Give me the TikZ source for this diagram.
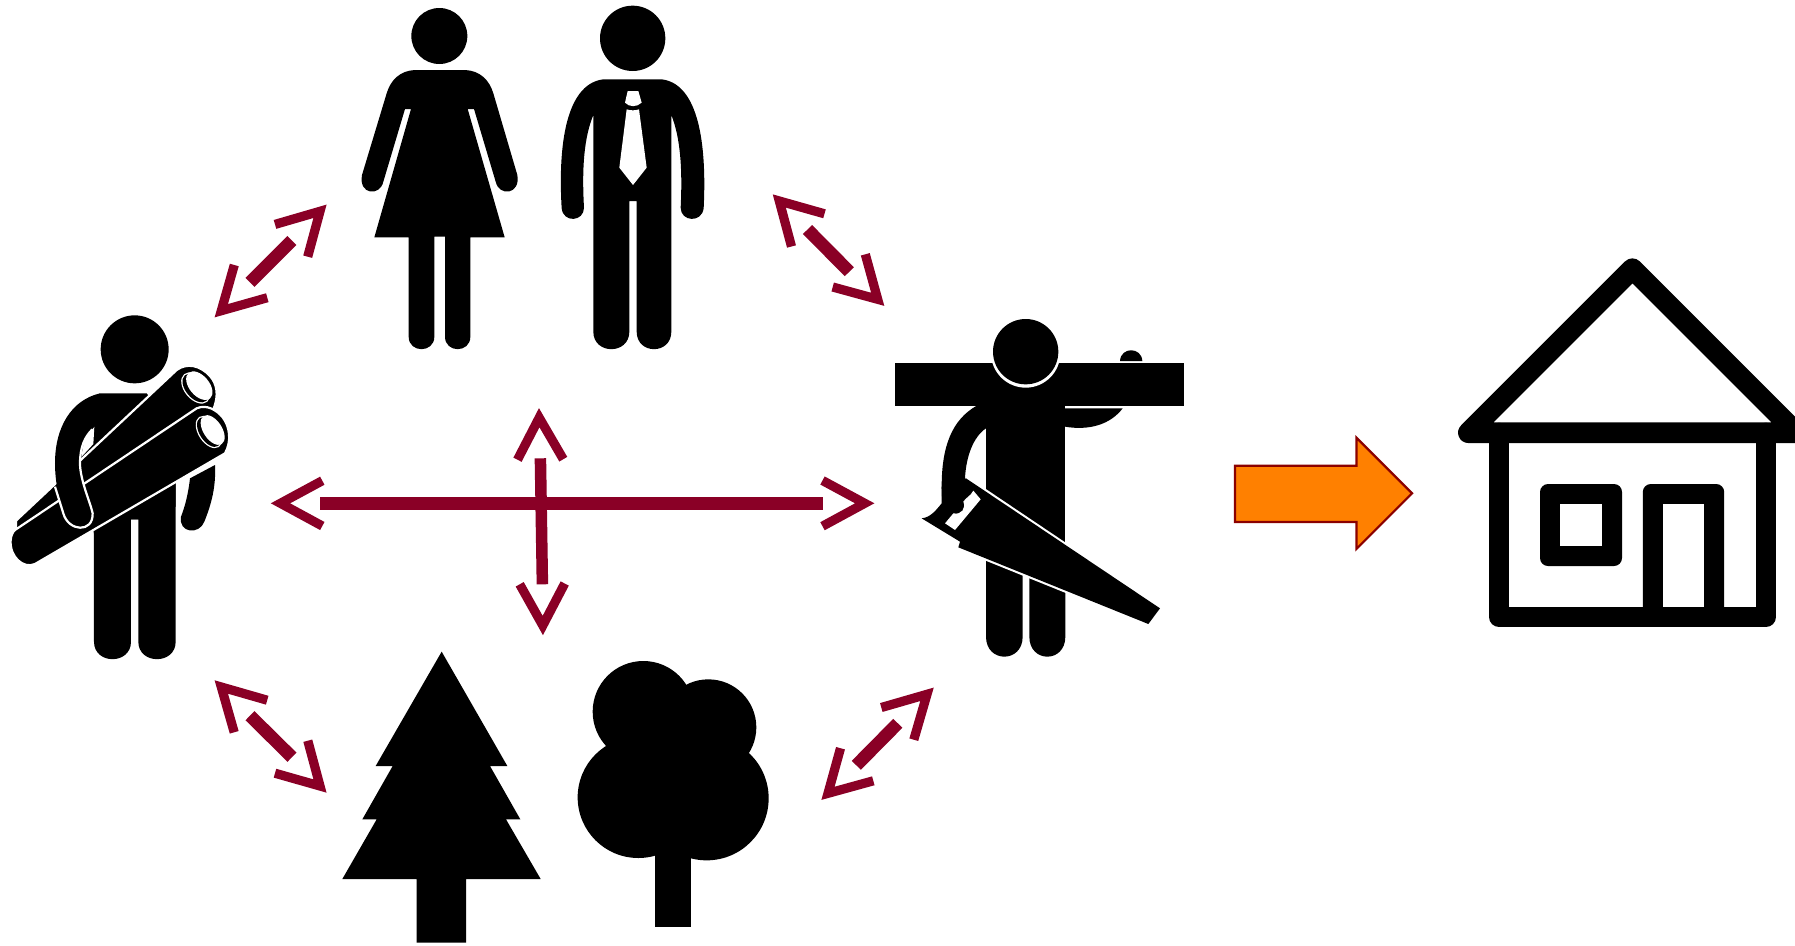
\documentclass[tikz,border=0pt]{standalone}
\definecolor{wine}{HTML}{8A0026}
\definecolor{arroworange}{HTML}{FF8000}
\definecolor{arrowedge}{HTML}{8B0000}
\tikzset{
  chev/.style={draw=wine,line width=9.2pt,miter limit=10,line join=miter,line cap=butt},
  shaft/.style={draw=wine,line width=12.8pt,line cap=butt},
  vshaft/.style={draw=wine,line width=11.5pt,line cap=butt},
  ink/.style={fill=black,draw=none},
  gap/.style={draw=white,line width=2.2pt},
  halo/.style={draw=white,line width=4.4pt},
  paper/.style={fill=white,draw=none},
  iconpart/.style={shift={#1},scale=0.33333},
  houseline/.style={draw=black,line join=round,line cap=round}
}
\begin{document}
\begin{tikzpicture}[x=1pt,y=-1pt]
\useasboundingbox (0,0) rectangle (1795,945);
\clip (0,0) rectangle (1795,945);
\fill[white] (0,0) rectangle (1795,945);

% woman and man
\begin{scope}[iconpart={(350,0)}]
  \fill[ink] (268,108) circle (84);
  \fill[ink] (195,210) .. controls (150,212) and (122,240) .. (110,280) -- (36,525)
    .. controls (25,585) and (90,590) .. (100,545) -- (165,327) -- (183,327) -- (73,712) -- (176,712) -- (176,1010)
    .. controls (176,1060) and (253,1060) .. (253,1010) -- (253,710) -- (285,710) -- (285,1010)
    .. controls (285,1060) and (361,1060) .. (361,1010) -- (361,712) -- (464,712) -- (353,327) -- (372,327) -- (437,545)
    .. controls (447,590) and (512,585) .. (502,525) -- (430,280) .. controls (418,240) and (390,212) .. (345,210) -- cycle;
  \fill[ink] (848,115) circle (98);
  \fill[ink] (760,238) .. controls (660,250) and (622,400) .. (635,625)
    .. controls (640,670) and (702,665) .. (702,623) .. controls (695,500) and (703,410) .. (730,345) -- (730,995)
    .. controls (730,1065) and (838,1065) .. (838,995) -- (838,603) -- (860,603) -- (860,995)
    .. controls (860,1065) and (964,1065) .. (964,995) -- (964,345) .. controls (990,410) and (998,500) .. (992,623)
    .. controls (992,665) and (1055,670) .. (1061,625) .. controls (1072,400) and (1035,250) .. (935,238) -- cycle;
  \fill[paper] (833,273) -- (865,273) -- (875,308) .. controls (860,322) and (838,322) .. (825,308) -- cycle;
  \fill[paper] (830,328) .. controls (842,332) and (855,332) .. (867,328) -- (890,503) -- (849,555) -- (808,503) -- cycle;
\end{scope}

% man carrying logs
\begin{scope}[iconpart={(0,300)}]
  \fill[ink] (404,148) circle (102);
  \fill[ink] (570,535) -- (645,495) .. controls (648,560) and (635,610) .. (613,665)
    .. controls (598,705) and (535,700) .. (543,650) .. controls (555,620) and (565,580) .. (570,535) -- cycle;
  \fill[ink] (282,650) -- (282,1025) .. controls (282,1095) and (393,1095) .. (393,1025) -- (393,658) -- (415,658) -- (415,1025)
    .. controls (415,1095) and (527,1095) .. (527,1025) -- (527,540) -- cycle;
  \fill[ink] (300,280) -- (440,280) -- (527,400) -- (527,620) -- (415,658) -- (393,658) -- (282,700) -- (220,400) -- cycle;
  \fill[paper] (283,380) -- (280,432) -- (245,470) .. controls (248,430) and (260,400) .. (283,380) -- cycle;
  % upper log
  \filldraw[fill=black,gap] (48,690) -- (48,662) -- (530,210) .. controls (560,188) and (600,195) .. (630,228)
    .. controls (650,250) and (658,285) .. (640,328) -- (600,330) -- cycle;
  \fill[paper,shift={(587,264)},rotate=-50] (0,0) ellipse (54 and 34);
  \fill[ink,shift={(587,264)},rotate=-50] (0,0) ellipse (50 and 30);
  \fill[paper,shift={(598,257)},rotate=-50] (0,0) ellipse (50 and 30);
  % lower log
  \filldraw[fill=black,gap] (45,690) -- (590,325) .. controls (620,312) and (650,330) .. (668,352)
    .. controls (690,380) and (695,425) .. (675,460) -- (105,792) .. controls (70,808) and (28,770) .. (32,720)
    .. controls (33,708) and (38,695) .. (45,690) -- cycle;
  \fill[paper,shift={(627,396)},rotate=-57] (0,0) ellipse (54 and 32);
  \fill[ink,shift={(627,396)},rotate=-57] (0,0) ellipse (50 and 28);
  \fill[paper,shift={(638,390)},rotate=-57] (0,0) ellipse (50 and 28);
  % near arm
  \fill[ink] (300,280) .. controls (215,300) and (165,380) .. (165,490) .. controls (165,540) and (175,590) .. (190,640)
    .. controls (205,695) and (280,700) .. (278,640) .. controls (272,610) and (240,540) .. (240,490)
    .. controls (240,440) and (255,410) .. (283,380) -- (300,330) -- cycle;
  \draw[gap] (277,388) .. controls (255,410) and (240,440) .. (240,490) .. controls (240,540) and (272,610) .. (278,640)
    .. controls (280,700) and (205,695) .. (190,640) -- (165,560);
\end{scope}

% carpenter
\begin{scope}[iconpart={(880,300)}]
  \fill[ink] (318,300) rectangle (556,770);
  \fill[ink] (318,770) -- (318,1010) .. controls (318,1090) and (428,1090) .. (428,1010) -- (428,800) -- cycle;
  \fill[ink] (448,800) -- (448,1010) .. controls (448,1090) and (556,1090) .. (556,1010) -- (556,770) -- cycle;
  \fill[ink] (720,183) .. controls (722,140) and (785,140) .. (787,183) -- cycle;
  \fill[ink] (555,325) -- (728,325) .. controls (690,375) and (625,392) .. (555,380) -- cycle;
  \fill[ink] (44,190) rectangle (913,317);
  \fill[paper] (437,159) circle (104);
  \fill[ink] (437,155) circle (98);
  \fill[ink] (290,317) .. controls (215,360) and (185,440) .. (185,560) -- (187,620) -- (258,560) -- (255,535)
    .. controls (258,470) and (280,410) .. (318,385) -- (340,317) -- cycle;
  \draw[halo] (258,535) -- (575,748);
  \draw[halo] (300,768) -- (575,879);
  \fill[ink] (258,535) -- (840,925) -- (805,972) -- (235,742) -- (240,725) -- (125,655)
    .. controls (150,652) and (165,635) .. (185,610) -- (185,560) -- cycle;
  \fill[paper] (280,572) -- (302,598) -- (225,690) -- (195,670) -- (220,640)
    .. controls (245,645) and (258,625) .. (250,605) .. controls (258,592) and (270,590) .. (280,572) -- cycle;
\end{scope}

% trees
\begin{scope}[iconpart={(330,640)}]
  \fill[ink] (335,35) -- (532,378) -- (480,378) -- (571,538) -- (528,538) -- (632,717) -- (408,717) -- (408,908) -- (260,908)
    -- (260,717) -- (37,717) -- (140,538) -- (97,538) -- (188,378) -- (137,378) -- cycle;
  \fill[ink] (940,215) circle (152);
  \fill[ink] (1135,262) circle (144);
  \fill[ink] (925,472) circle (182);
  \fill[ink] (1130,475) circle (186);
  \fill[ink] (925,215) rectangle (1135,480);
  \fill[ink] (974,600) rectangle (1084,862);
\end{scope}

% central cross
\draw[vshaft] (540.4,458.3) -- (542.4,584.3);
\draw[shaft] (320.3,503.5) -- (823.3,503.5);
\draw[chev] (322.3,480.7) -- (280.5,503.3) -- (322.3,526);
\draw[chev] (822.5,480.5) -- (864.7,503.3) -- (822.5,526.2);
\draw[chev] (517.5,459.7) -- (539.2,417.7) -- (563.3,459.2);
\draw[chev] (519.7,584.3) -- (542.8,625.5) -- (564.7,583.5);

% upper left pair
\draw[shaft] (250,282.3) -- (291.8,240.5);
\draw[chev] (275,224.4) -- (320,211.3) -- (307.7,256.7);
\draw[chev] (234.3,265) -- (221.3,310.7) -- (267.3,297.7);
% upper right pair
\draw[shaft] (807.5,229.5) -- (849.3,271.7);
\draw[chev] (824.5,213.8) -- (779.3,201) -- (791.5,246.5);
\draw[chev] (865.3,254.3) -- (877.7,299.3) -- (832.7,287);
% lower left pair
\draw[shaft] (250,715.7) -- (292,757.2);
\draw[chev] (267.2,700.2) -- (221.3,687) -- (234.2,732.3);
\draw[chev] (307.8,740.7) -- (320,786) -- (275,773.2);
% lower right pair
\draw[shaft] (897.8,723.3) -- (856.3,765.3);
\draw[chev] (881.3,707.5) -- (927,694.3) -- (913.8,739.7);
\draw[chev] (840.5,748.2) -- (828,793.3) -- (873.3,780.8);

% orange arrow
\draw[fill=arroworange,draw=arrowedge,line width=2.2pt,line join=miter]
  (1235,465.7) -- (1356.4,465.7) -- (1356.4,437.7) -- (1412,493.3) -- (1356.4,549) -- (1356.4,522) -- (1235,522) -- cycle;

% house
\draw[houseline,line width=20.7pt] (1468.4,432.7) -- (1632.4,268.7) -- (1796.4,432.7) -- cycle;
\draw[houseline,line width=20pt] (1499.4,432.7) -- (1499.4,617.3) -- (1765.6,617.3) -- (1765.6,432.7);
\fill[ink,rounded corners=8pt] (1540,484) rectangle (1622,566);
\fill[paper] (1560.3,504.3) rectangle (1602,545.7);
\fill[ink,rounded corners=8pt] (1642.8,484) rectangle (1724.2,617.3);
\fill[paper] (1662.6,504.3) rectangle (1704.4,607.3);
\end{tikzpicture}
\end{document}
